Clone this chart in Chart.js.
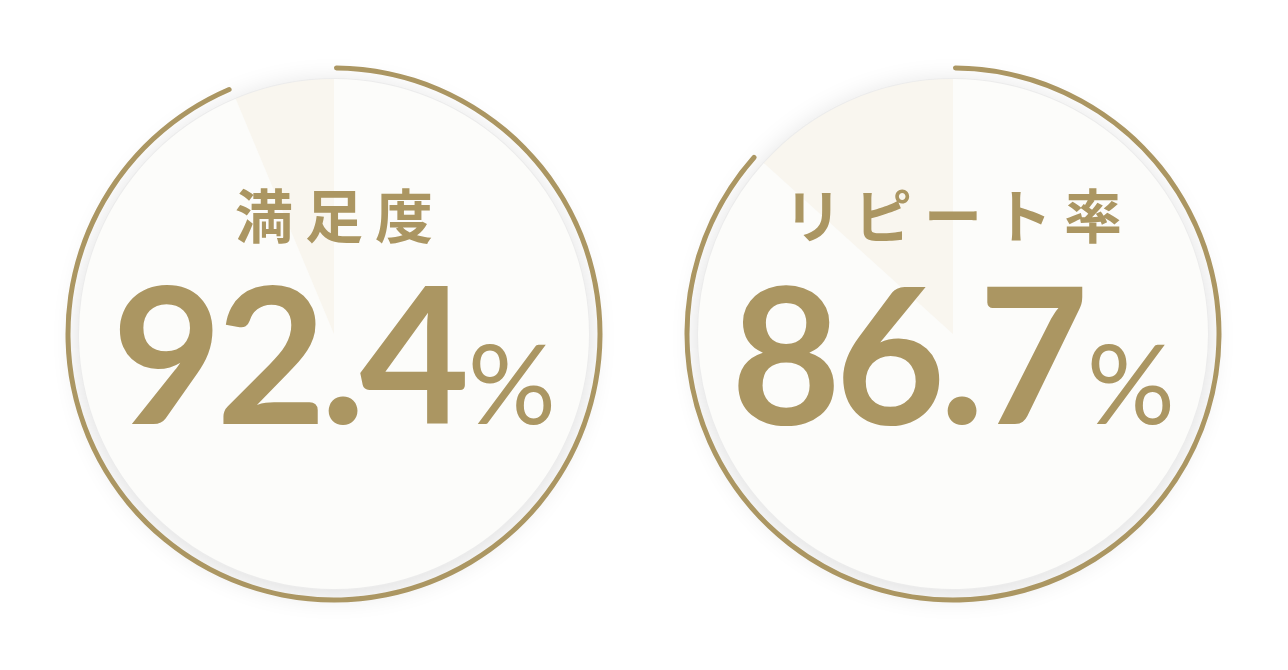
<!DOCTYPE html>
<html lang="ja">
<head>
<meta charset="utf-8">
<script src="https://cdn.jsdelivr.net/npm/chart.js@4"></script>
<style>
  html, body { margin: 0; padding: 0; background: #ffffff; }
  body { width: 1288px; height: 670px; position: relative; overflow: hidden; }
  .ring { position: absolute; top: 34px; width: 600px; height: 600px; }
  .ring canvas { position: absolute; left: 0; top: 0; }
  .label {
    position: absolute; left: 0; width: 600px; text-align: center;
    color: #ab9662; white-space: nowrap;
  }
  .title {
    top: 149px; font-family: "Noto Sans CJK JP", sans-serif; font-weight: 600;
    font-size: 58px; line-height: 60px; letter-spacing: 12px; text-indent: 12px;
  }
  .num {
    top: 222px; font-family: Lato, sans-serif; font-weight: 700;
    font-size: 190px; line-height: 188px; letter-spacing: -6px;
  }
  .pct { font-size: 110px; font-weight: 400; letter-spacing: 0; margin-left: 4px; }
</style>
</head>
<body>
<div class="ring" style="left:34px">
  <canvas id="chart0" width="600" height="600"></canvas>
  <div class="label title">満足度</div>
  <div class="label num">92.4<span class="pct">%</span></div>
</div>
<div class="ring" style="left:653px">
  <canvas id="chart1" width="600" height="600"></canvas>
  <div class="label title">リピート率</div>
  <div class="label num">86.7<span class="pct">%</span></div>
</div>
<script>
// what each circle says
var titles = ['満足度', 'リピート率'];
var rates = ['92.4', '86.7'];
// share of the circle drawn in gold
var arcShare = [93.7, 86.7];
var restShare = [6.3, 13.3];

var GOLD = '#ab9662';
var DISC = '#fcfcfa';
var WEDGE = '#f9f6ef';

// soft shadow under the inner disc
var discShadow = {
  id: 'discShadow',
  beforeDatasetsDraw: function (chart) {
    var arc = chart.getDatasetMeta(2).data[0];
    if (!arc) return;
    var ctx = chart.ctx;
    ctx.save();
    ctx.beginPath();
    ctx.arc(arc.x, arc.y, arc.outerRadius, 0, Math.PI * 2);
    ctx.fillStyle = DISC;
    ctx.shadowColor = 'rgba(0,0,0,0.14)';
    ctx.shadowBlur = 28;
    ctx.shadowOffsetY = 5;
    ctx.fill();
    ctx.shadowColor = 'transparent';
    ctx.lineWidth = 2;
    ctx.strokeStyle = '#ececec';
    ctx.stroke();
    ctx.restore();
  }
};

for (var i = 0; i < titles.length; i++) {
  new Chart(document.getElementById('chart' + i), {
    type: 'doughnut',
    data: {
      labels: [titles[i], ''],
      datasets: [{
        data: [arcShare[i], restShare[i]],
        backgroundColor: [GOLD, 'rgba(0,0,0,0)'],
        borderWidth: 0,
        borderRadius: 2.5,
        weight: 5
      }, {
        data: [100],
        backgroundColor: ['rgba(0,0,0,0)'],
        borderWidth: 0,
        weight: 8.5
      }, {
        data: [arcShare[i], restShare[i]],
        backgroundColor: [DISC, WEDGE],
        borderWidth: 0,
        weight: 255
      }]
    },
    options: {
      responsive: false,
      animation: false,
      events: [],
      cutout: 0,
      radius: 268.5,
      hoverOffset: 0,
      plugins: { legend: { display: false }, tooltip: { enabled: false } }
    },
    plugins: [discShadow]
  });
}
</script>
</body>
</html>
